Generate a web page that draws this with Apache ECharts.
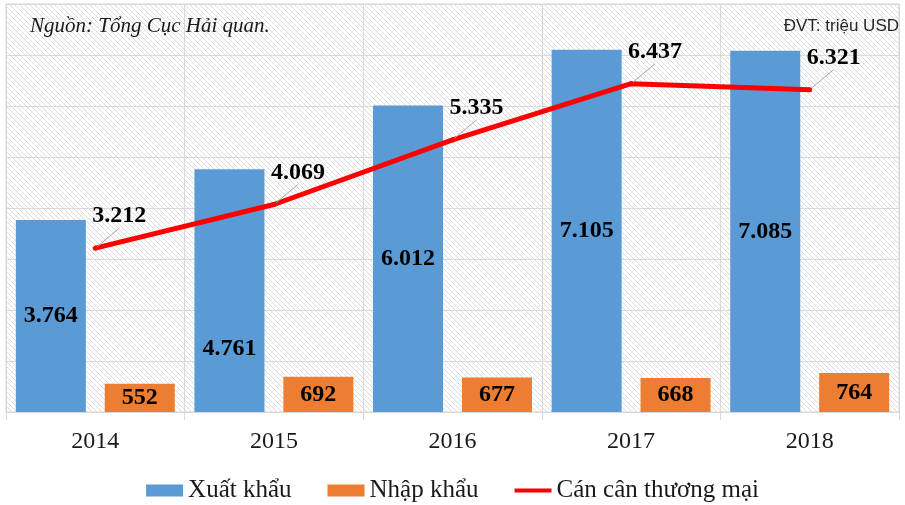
<!DOCTYPE html>
<html>
<head>
<meta charset="utf-8">
<script src="https://cdn.jsdelivr.net/npm/echarts@6/dist/echarts.min.js"></script>
<style>
  html, body { margin: 0; padding: 0; background: #fff; }
  #chart { width: 905px; height: 505px; }
</style>
</head>
<body>
<div id="chart"></div>
<script>
// số liệu (triệu USD)
const years = ['2014', '2015', '2016', '2017', '2018'];
const xuatKhau = [3764, 4761, 6012, 7105, 7085];
const nhapKhau = [552, 692, 677, 668, 764];
const canCan = [3212, 4069, 5335, 6437, 6321];

const serif = '"Liberation Serif", "Times New Roman", serif';

// 3764 -> "3.764"
function fmt(v) {
  return String(v).replace(/\B(?=(\d{3})+(?!\d))/g, '.');
}

// nền sọc chéo
function hatch() {
  const c = document.createElement('canvas');
  c.width = 5; c.height = 5;
  const ctx = c.getContext('2d');
  ctx.fillStyle = '#ffffff';
  ctx.fillRect(0, 0, 5, 5);
  ctx.strokeStyle = '#dcdcdc';
  ctx.lineWidth = 1;
  ctx.beginPath();
  ctx.moveTo(-1, -1); ctx.lineTo(6, 6);
  ctx.moveTo(-1, 4); ctx.lineTo(1, 6);
  ctx.moveTo(4, -1); ctx.lineTo(6, 1);
  ctx.stroke();
  return c;
}

const chart = echarts.init(document.getElementById('chart'));
chart.setOption({
  animation: false,
  textStyle: { fontFamily: serif },
  grid: {
    left: 6, right: 6, top: 4, bottom: 93,
    show: true,
    borderColor: '#d9d9d9',
    borderWidth: 1,
    backgroundColor: { image: hatch(), repeat: 'repeat' }
  },
  graphic: [
    {
      type: 'text', left: 30, top: 16,
      style: { text: 'Nguồn: Tổng Cục Hải quan.', font: 'italic 21px ' + serif, fill: '#1a1a1a' }
    },
    {
      type: 'text', right: 6, top: 18,
      style: { text: 'ĐVT: triệu USD', font: '17px "Liberation Sans Narrow", "Liberation Sans", Arial, sans-serif', fill: '#262626' }
    }
  ],
  legend: {
    top: 478,
    left: 'center',
    padding: 0,
    itemWidth: 37,
    itemHeight: 12,
    itemGap: 36,
    textStyle: { fontSize: 25, fontFamily: serif, color: '#1a1a1a' },
    data: [
      { name: 'Xuất khẩu', icon: 'rect' },
      { name: 'Nhập khẩu', icon: 'rect' },
      { name: 'Cán cân thương mại', icon: 'path://M0,0L44,0L44,5L0,5Z' }
    ]
  },
  xAxis: {
    type: 'category',
    data: years,
    axisLine: { lineStyle: { color: '#d9d9d9' } },
    axisTick: { show: true, length: 8, lineStyle: { color: '#d9d9d9' } },
    splitLine: { show: true, lineStyle: { color: '#d9d9d9' } },
    axisLabel: { fontSize: 24, fontFamily: serif, color: '#1a1a1a', margin: 18 }
  },
  yAxis: {
    type: 'value',
    min: 0, max: 8000, interval: 1000,
    axisLabel: { show: false },
    axisLine: { show: false },
    axisTick: { show: false },
    splitLine: { lineStyle: { color: '#d9d9d9' } }
  },
  series: [
    {
      name: 'Xuất khẩu',
      type: 'bar',
      barGap: '27%',
      barCategoryGap: '11%',
      itemStyle: { color: '#5b9bd5' },
      label: {
        show: true, position: 'inside',
        fontSize: 24, fontWeight: 'bold', fontFamily: serif, color: '#000',
        formatter: p => fmt(p.value)
      },
      // nhãn năm 2015 bị đặt thấp hơn trong hình gốc
      data: xuatKhau.map((v, i) => i === 1 ? { value: v, label: { offset: [0, 58] } } : v)
    },
    {
      name: 'Nhập khẩu',
      type: 'bar',
      itemStyle: { color: '#ed7d31' },
      label: {
        show: true, position: 'inside',
        fontSize: 24, fontWeight: 'bold', fontFamily: serif, color: '#000',
        formatter: p => fmt(p.value)
      },
      data: nhapKhau
    },
    {
      name: 'Cán cân thương mại',
      type: 'line',
      symbol: 'circle',
      symbolSize: 5,
      itemStyle: { color: '#ff0000' },
      lineStyle: { color: '#ff0000', width: 5 },
      label: {
        show: true, position: 'inside',
        fontSize: 24, fontWeight: 'bold', fontFamily: serif, color: '#000',
        formatter: p => fmt(p.value)
      },
      labelLayout: { dx: 24, dy: -32 },
      labelLine: { show: true, lineStyle: { color: '#a6a6a6', width: 1 } },
      z: 5,
      data: canCan
    }
  ]
});
</script>
</body>
</html>
